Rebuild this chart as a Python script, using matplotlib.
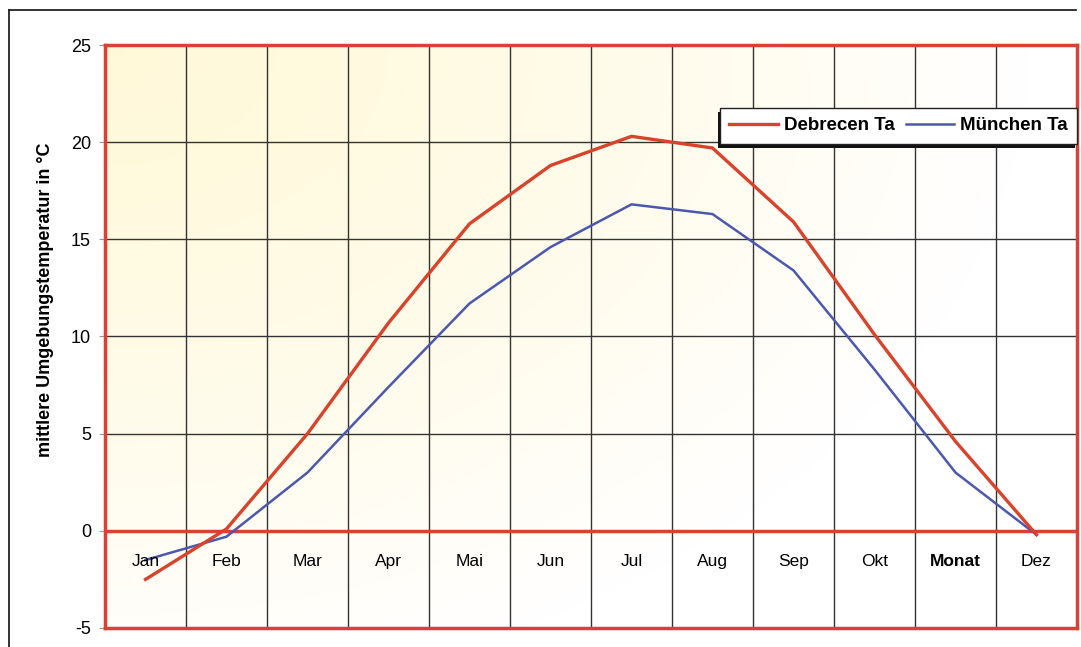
import matplotlib.pyplot as plt
import numpy as np
from matplotlib.lines import Line2D
from matplotlib.patches import Rectangle

plt.rcParams["font.family"] = ["Liberation Sans", "DejaVu Sans"]

# monthly mean ambient temperature (°C)
monate = ["Jan", "Feb", "Mar", "Apr", "Mai", "Jun", "Jul", "Aug", "Sep", "Okt", "Monat", "Dez"]
debrecen_ta = [-2.5, 0.1, 5.0, 10.7, 15.8, 18.8, 20.3, 19.7, 15.9, 10.1, 4.6, -0.2]
muenchen_ta = [-1.5, -0.3, 3.0, 7.4, 11.7, 14.6, 16.8, 16.3, 13.4, 8.3, 3.0, -0.2]
y_ticks = [-5, 0, 5, 10, 15, 20, 25]

RED = "#d9432b"
BLUE = "#4a58b0"
FRAME_RED = "#dc3f34"

W, H = 1081, 647
fig = plt.figure(figsize=(W / 100, H / 100), dpi=100)
fig.patch.set_facecolor("white")

# outer chart frame (left + top edge)
fig.add_artist(Line2D([9 / W, 9 / W], [0, 1 - 10 / H], color="#222222", lw=1.3))
fig.add_artist(Line2D([9 / W, 1076 / W], [1 - 10 / H, 1 - 10 / H], color="#222222", lw=1.3))

ax = fig.add_axes([105 / W, 1 - 628 / H, (1077 - 105) / W, (628 - 45) / H])

x = np.arange(len(monate))
ax.set_xlim(-0.5, len(monate) - 0.5)

# cream-to-white background, radiating from the upper left corner
gx, gy = np.meshgrid(np.linspace(0, 1, 300), np.linspace(0, 1, 300))
dist = np.clip(np.sqrt((gx * 1.0) ** 2 + (gy * 0.85) ** 2) / 0.95, 0, 1) ** 1.3
warm = np.array([1.0, 0.975, 0.85])
white = np.array([1.0, 1.0, 1.0])
img = warm[None, None, :] * (1 - dist[..., None]) + white[None, None, :] * dist[..., None]
ax.imshow(img, extent=[-0.5, len(monate) - 0.5, -5, 25], origin="upper",
          aspect="auto", zorder=0)
ax.set_ylim(-5, 25)

# grid
for xv in np.arange(0.5, len(monate) - 0.5):
    ax.axvline(xv, color="#333333", lw=1.0, zorder=1)
for yv in [5, 10, 15, 20]:
    ax.axhline(yv, color="#333333", lw=1.0, zorder=1)
ax.axhline(0, color=FRAME_RED, lw=2.5, zorder=2)

ax.plot(x, debrecen_ta, color=RED, lw=2.4, zorder=4, label="Debrecen Ta")
ax.plot(x, muenchen_ta, color=BLUE, lw=1.8, zorder=3, label="München Ta")

for i, m in enumerate(monate):
    ax.text(i, -1.6, m, ha="center", va="center", fontsize=12.5,
            fontweight="bold" if m == "Monat" else "normal", zorder=5)

ax.set_xticks([])
ax.set_yticks(y_ticks)
ax.set_yticklabels([str(v) for v in y_ticks], fontsize=13)
ax.tick_params(axis="y", length=4, width=0.8, color="#999999", pad=6)
for s in ax.spines.values():
    s.set_color(FRAME_RED)
    s.set_linewidth(2.5)

ax.set_ylabel("mittlere Umgebungstemperatur in °C", fontsize=13, fontweight="bold")
ax.yaxis.set_label_coords(-0.052, 0.563)

leg = ax.legend(loc="upper right", bbox_to_anchor=(1.0, 0.892), ncol=2, fontsize=13.5,
                frameon=True, fancybox=False, shadow=False, handlelength=2.6,
                handletextpad=0.3, columnspacing=0.6, borderpad=0.5, borderaxespad=0)
leg.get_frame().set_edgecolor("#222222")
leg.get_frame().set_linewidth(1.0)
leg.get_frame().set_alpha(1.0)
for t in leg.get_texts():
    t.set_fontweight("bold")
leg.set_zorder(10)

# dark drop shadow under the legend box
fig.canvas.draw()
bb = leg.get_window_extent()
shadow = Rectangle((bb.x0 - 2, bb.y0 - 4), bb.width, bb.height, transform=None,
                   facecolor="#111111", edgecolor="none", zorder=9)
ax.add_artist(shadow)
shadow.set_clip_on(False)

fig.savefig("out.png", dpi=100)
